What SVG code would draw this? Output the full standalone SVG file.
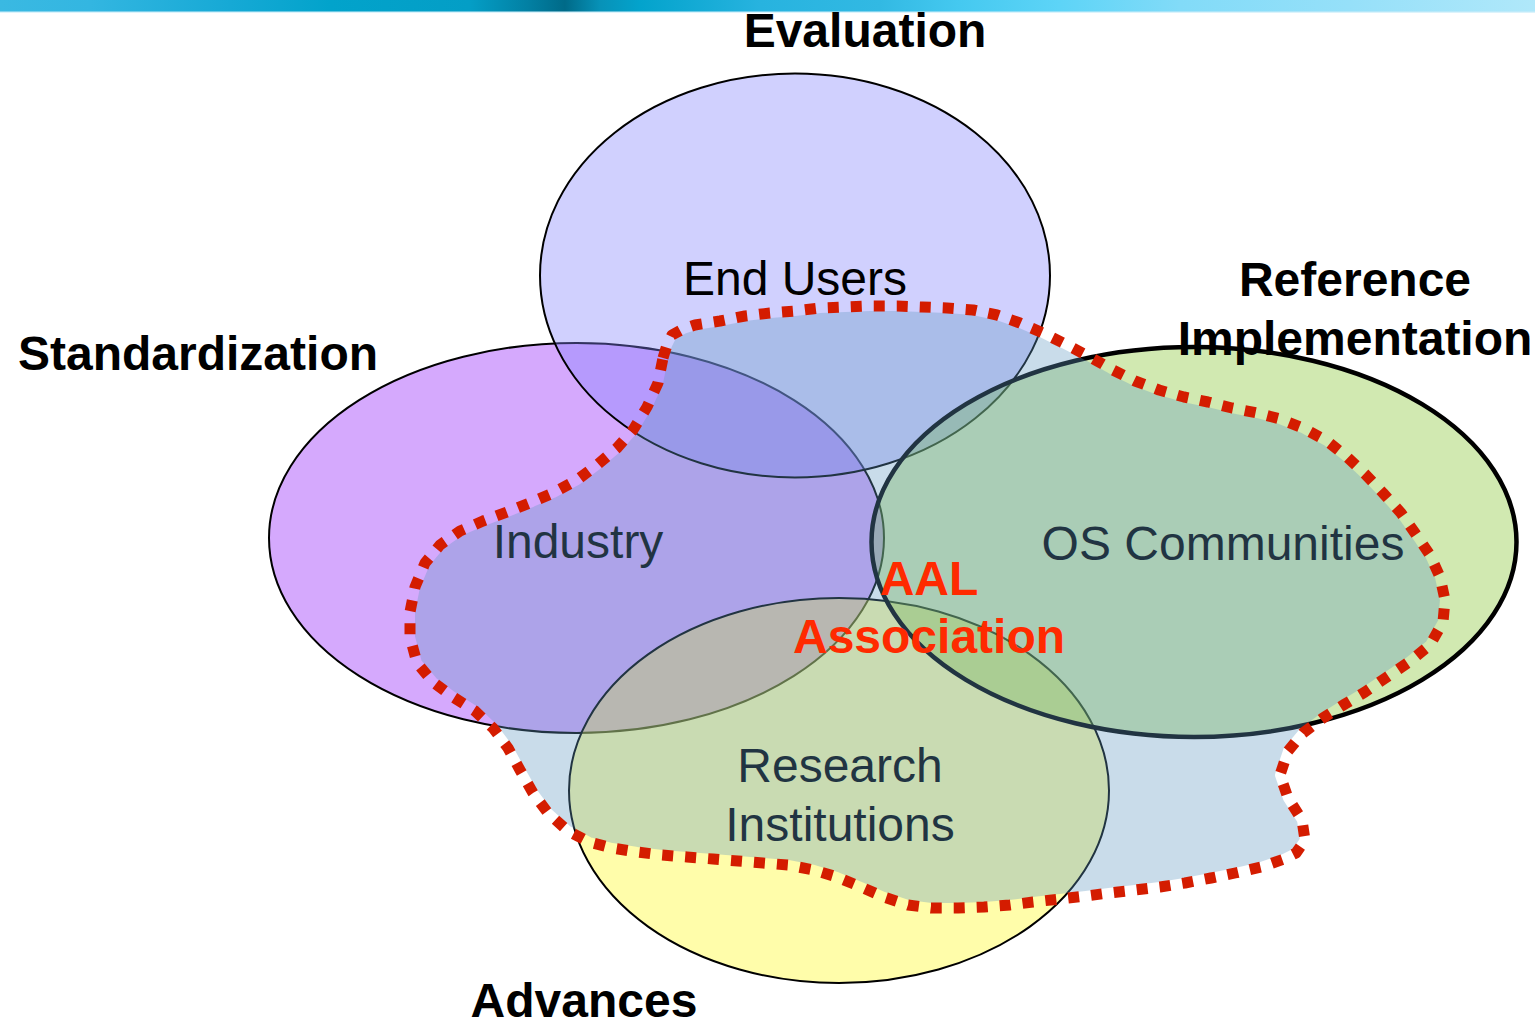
<svg xmlns="http://www.w3.org/2000/svg" width="1535" height="1021" viewBox="0 0 1535 1021">
<defs>
<linearGradient id="bar" x1="0" y1="0" x2="1" y2="0">
<stop offset="0" stop-color="#3ab9e2"/>
<stop offset="0.059" stop-color="#33b6e1"/>
<stop offset="0.15" stop-color="#16a9d5"/>
<stop offset="0.215" stop-color="#02a3cb"/>
<stop offset="0.306" stop-color="#049ec6"/>
<stop offset="0.345" stop-color="#027fa2"/>
<stop offset="0.368" stop-color="#006a88"/>
<stop offset="0.391" stop-color="#0792b8"/>
<stop offset="0.417" stop-color="#03a3cc"/>
<stop offset="0.495" stop-color="#27b3df"/>
<stop offset="0.573" stop-color="#32b9e3"/>
<stop offset="0.625" stop-color="#45c9f0"/>
<stop offset="0.69" stop-color="#5dd4f7"/>
<stop offset="0.769" stop-color="#82dbf8"/>
<stop offset="0.88" stop-color="#96e0f9"/>
<stop offset="1" stop-color="#b0e8fa"/>
</linearGradient>
<path id="blobPath" d="M663,358 L667,345 L672,335 L683,329 L695,325 L720,321 L745,316 L770,313 L795,311 L820,308 L845,307 L870,306 L897,306 L922,307 L947,308 L973,310 L997,315 L1020,323 L1043,333 L1067,345 L1090,357 L1113,370 L1135,381 L1159,390 L1184,397 L1208,402 L1232,408 L1257,413 L1280,419 L1303,428 L1327,441 L1347,457 L1365,474 L1383,493 L1401,513 L1415,533 L1430,555 L1440,577 L1445,600 L1443,622 L1430,645 L1409,662 L1387,677 L1365,692 L1345,704 L1323,718 L1303,733 L1288,751 L1280,775 L1288,798 L1302,820 L1305,840 L1296,853 L1284,859 L1261,867 L1235,873 L1211,878 L1185,883 L1160,887 L1135,890 L1109,893 L1086,896 L1060,899 L1033,902 L1010,905 L984,907 L958,908 L931,908 L908,905 L884,897 L861,887 L837,877 L814,870 L788,865 L763,863 L738,861 L713,859 L687,857 L662,855 L637,852 L612,848 L589,842 L568,831 L548,813 L533,793 L520,770 L508,748 L493,728 L475,711 L453,697 L433,682 L417,663 L410,637 L410,612 L415,587 L425,563 L440,545 L460,531 L483,521 L507,512 L532,502 L553,493 L577,480 L597,465 L617,448 L633,430 L647,407 L658,383 Z"/>
<mask id="inset">
<use href="#blobPath" fill="#fff" stroke="#000" stroke-width="10" stroke-linejoin="round"/>
</mask>
</defs>
<style>
.lbl { font-family: "Liberation Sans", Arial, sans-serif; font-size: 48px; fill: #000; text-anchor: middle; }
.cat { font-family: "Liberation Sans", Arial, sans-serif; font-size: 48px; font-weight: bold; fill: #000; }
.aal { font-family: "Liberation Sans", Arial, sans-serif; font-size: 48px; font-weight: bold; fill: #ff2a00; text-anchor: middle; }
.ell { stroke: #000; fill-opacity: 0.38; }
</style>
<rect x="0" y="0" width="1535" height="12" fill="url(#bar)"/>
<rect x="0" y="11.5" width="1535" height="1.2" fill="#cdeefa"/>

<g id="industry">
<ellipse cx="576.5" cy="538" rx="307.5" ry="195" fill="#d5a9fd" stroke="#000" stroke-width="2"/>
<text class="lbl" x="578" y="558">Industry</text>
</g>
<g id="end-users">
<ellipse class="ell" cx="795" cy="275.5" rx="255" ry="202" fill="#8383fc" stroke-width="2"/>
<text class="lbl" x="795" y="295">End Users</text>
</g>
<g id="research">
<ellipse class="ell" cx="839" cy="790.5" rx="270" ry="192.5" fill="#fffa20" stroke-width="2"/>
<text class="lbl" x="840" y="782">Research</text>
<text class="lbl" x="840" y="841">Institutions</text>
</g>
<g id="os-communities">
<ellipse class="ell" cx="1194" cy="542" rx="322.5" ry="195" fill="#86c532" stroke-width="4.5"/>
<text class="lbl" x="1223" y="560">OS Communities</text>
</g>

<g id="aal-association">
<use href="#blobPath" fill="#6098c1" fill-opacity="0.34" mask="url(#inset)"/>
<use href="#blobPath" fill="none" stroke="#d41c00" stroke-width="11" stroke-dasharray="11 12" stroke-linejoin="round"/>
<text class="aal" x="929" y="595">AAL</text>
<text class="aal" x="929" y="653">Association</text>
</g>

<g id="categories">
<text class="cat" x="865" y="47" text-anchor="middle">Evaluation</text>
<text class="cat" x="18" y="370">Standardization</text>
<text class="cat" x="1355" y="296" text-anchor="middle">Reference</text>
<text class="cat" x="1355" y="355" text-anchor="middle">Implementation</text>
<text class="cat" x="584" y="1017" text-anchor="middle">Advances</text>
</g>
<g id="connectors"/>
</svg>
